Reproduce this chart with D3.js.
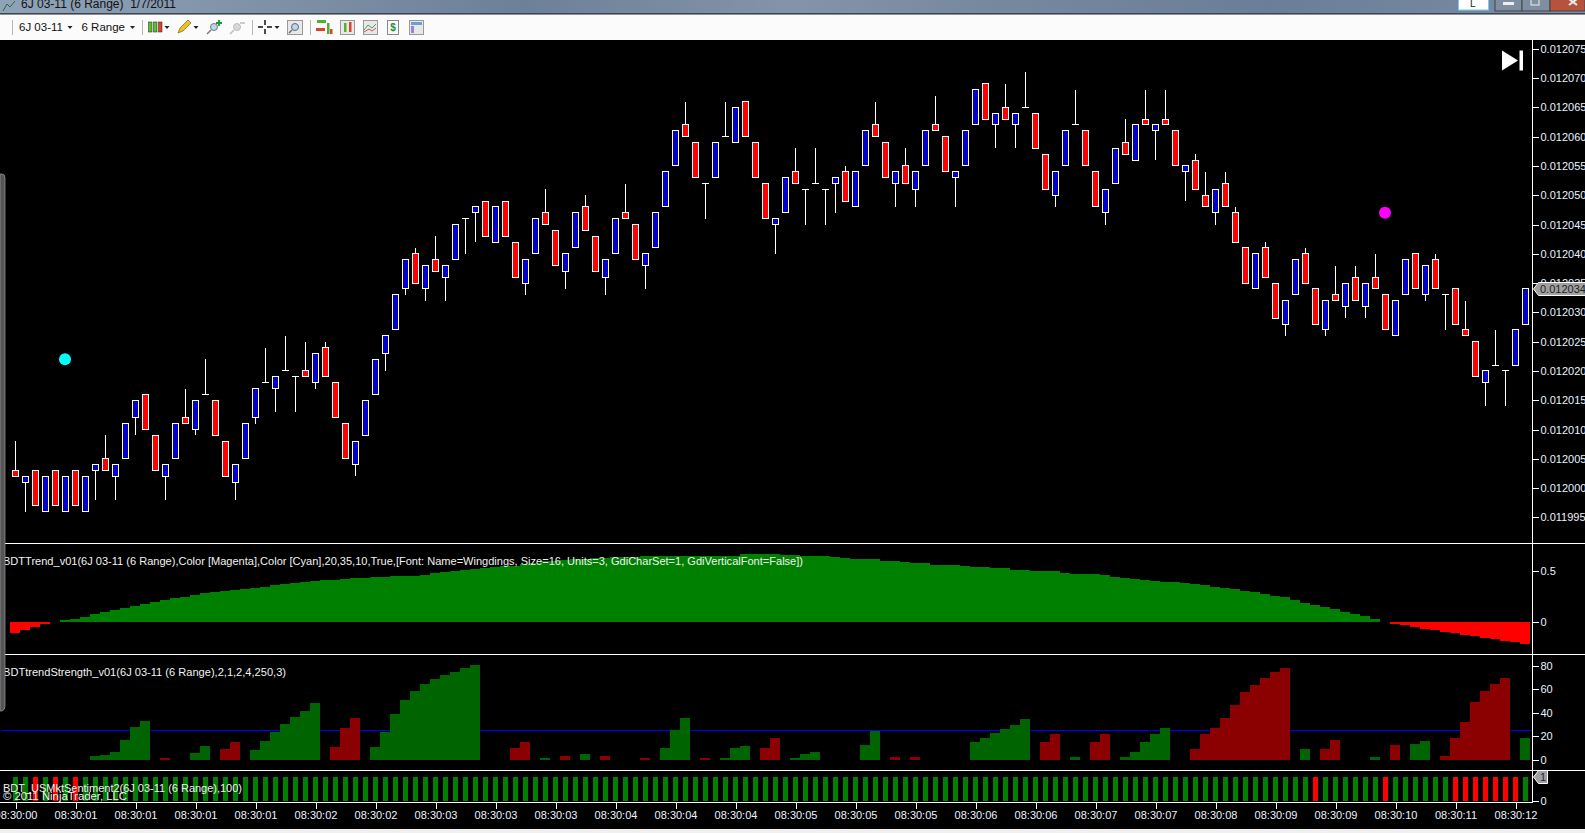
<!DOCTYPE html>
<html>
<head>
<meta charset="utf-8">
<title>6J 03-11 (6 Range)</title>
<script src="https://cdn.jsdelivr.net/npm/d3@7"></script>
<style>
  html, body { margin: 0; padding: 0; background: #000; overflow: hidden; }
  svg { display: block; font-family: "Liberation Sans", Arial, sans-serif; }
  .axis text { fill: #eaf2ff; font-size: 11px; font-family: "Liberation Sans", Arial, sans-serif; }
  .axis line { stroke: #fff; }
  .axis path { display: none; }
  .label { fill: #f2f2f2; font-size: 11px; }
  .crisp { shape-rendering: crispEdges; }
</style>
</head>
<body>
<div id="chart"></div>
<script>
// prices are in ticks above 0.012000 (1 tick = 0.000001)
const opens = [3,1,3,-4,3,-4,3,-4,3,5,2,5,12,16,9,2,5,12,10,16,15,8,1,5,12,18,17,20,19,20,18,24,18,11,4,9,16,23,27,34,40,34,39,36,39,46,47,49,42,49,42,35,40,47,44,37,41,48,43,36,40,47,45,38,41,48,55,62,59,52,53,60,59,66,59,52,45,47,54,51,52,51,52,54,48,55,62,59,52,55,51,55,62,60,53,55,62,69,62,65,62,65,64,57,50,55,62,61,54,47,52,59,56,63,61,63,61,54,56,50,47,52,47,41,34,41,35,28,33,40,34,27,33,31,36,31,36,33,26,33,40,33,39,33,34,27,25,18,21,20,21,28]
const closes = [2,2,-3,2,-3,2,-3,2,4,3,4,11,15,10,3,4,11,11,15,16,9,2,4,11,17,18,19,20,19,19,23,19,12,5,8,15,22,26,33,39,35,38,37,38,45,46,48,43,48,43,36,39,46,45,38,40,47,44,37,39,46,46,39,40,47,54,61,60,53,52,59,60,65,60,53,46,46,53,52,51,52,51,53,49,54,61,60,53,54,52,54,61,61,54,54,61,68,63,64,63,64,65,58,51,54,61,62,55,48,51,58,57,62,62,62,62,55,55,51,48,51,48,42,35,40,36,29,32,39,35,28,32,32,35,32,35,34,27,32,39,34,38,34,33,28,26,19,20,21,20,27,34]
const highs = [8,2,3,2,3,2,3,2,4,9,4,11,15,16,9,4,11,17,15,22,15,8,4,11,17,24,19,26,19,25,23,25,18,11,8,15,22,26,33,39,41,38,43,38,45,46,48,49,48,49,42,39,46,51,44,40,47,50,43,39,46,52,45,40,47,54,61,66,59,52,59,66,65,66,59,52,46,53,58,51,58,51,53,55,54,61,66,59,54,58,54,61,67,60,54,61,68,69,64,69,64,71,64,57,54,61,68,61,54,51,58,63,62,68,62,68,61,55,57,54,51,54,48,41,40,42,35,32,39,41,34,32,38,35,38,35,40,33,32,39,40,38,40,33,34,32,25,20,27,20,27,34]
const lows = [2,-4,-3,-4,-3,-4,-3,-4,-2,3,-2,5,9,10,3,-2,5,11,9,16,9,2,-2,5,11,18,13,20,13,19,17,19,12,5,2,9,16,20,27,33,35,32,37,32,39,40,42,43,42,43,36,33,40,45,38,34,41,44,37,33,40,46,39,34,41,48,55,60,53,46,53,60,59,60,53,46,40,47,52,45,52,45,47,49,48,55,60,53,48,52,48,55,61,54,48,55,62,63,58,63,58,65,58,51,48,55,62,55,48,45,52,57,56,62,56,62,55,49,51,48,45,48,42,35,34,36,29,26,33,35,28,26,32,29,32,29,34,27,26,33,34,32,34,27,28,26,19,14,21,14,21,28]

// BDTTrend_v01, one value per bar
const trendValues = [-.108,-.082,-.056,-.026,0,
  .013,.026,.049,.072,.092,.115,.135,.155,.174,.194,.214,.233,.247,.26,.279,.289,.299,.309,.322,.332,.342,.358,.371,.381,.391,.401,.411,.414,.424,.427,.434,.437,.444,.447,.454,.454,.457,.477,.487,.5,.51,.516,.526,.536,.546,.552,.565,.582,.595,.602,.611,.618,.621,.625,.631,.634,.638,.641,.644,.644,.648,.648,.648,.648,.651,.651,.651,.651,.664,.664,.664,.664,.657,.654,.651,.651,.648,.641,.631,.621,.621,.615,.602,.598,.592,.582,.575,.562,.562,.559,.549,.536,.536,.533,.526,.513,.513,.503,.503,.496,.483,.473,.473,.467,.457,.437,.431,.421,.408,.401,.391,.391,.378,.368,.358,.342,.332,.322,.306,.293,.273,.253,.24,.214,.187,.164,.148,.122,.099,.076,.056,.026,
  0,-.02,-.036,-.053,-.072,-.085,-.099,-.115,-.131,-.145,-.158,-.174,-.187,-.201,-.217]

// BDTtrendStrength_v01, sign is the colour (up green, down dark red)
const strengthValues = [0,0,0,0,0,0,0,0,3,4,7,17,28,33,0,-2,0,0,6,12,0,-9,-15,0,8.5,16,24,30.5,36.5,41.5,48,0,-11,-27,-35.5,0,11,24,39,51,58.5,64.5,68.5,72,75,78,80.5,0,0,0,-10,-15,0,2,0,-3.5,0,5,0,-3.5,0,0,0,-2,0,10,25.5,35.5,0,-2,0,2,10,12,0,-10,-18.5,0,2,5,7,0,0,0,0,12.5,24.5,0,-2.5,0,-2.5,0,0,0,0,0,15,18.5,23,26.5,29.5,35,0,-15,-22,0,2.5,0,-15,-22,0,2.5,7,15,22,27,0,0,-9,-22,-27,-35.5,-46.5,-57.5,-63.5,-69.5,-74.5,-78,0,9,0,-9,-17,0,0,0,2.5,0,-12.5,0,13.5,16,0,-3.5,-18.5,-32,-49,-58.5,-64.5,-69.5,0,18.5]
const strengthLevel = 25

// BDT_USMktSentiment2: every bar is 1, these bars are the red ones
const sentimentRedBars = [2,4,6,130,137,144,145,146,147,148,149,150]

const timeLabels = ['08:30:00','08:30:01','08:30:01','08:30:01','08:30:01','08:30:02','08:30:02','08:30:03','08:30:03','08:30:03','08:30:04','08:30:04','08:30:04','08:30:05','08:30:05','08:30:05','08:30:06','08:30:06','08:30:07','08:30:07','08:30:08','08:30:09','08:30:09','08:30:10','08:30:11','08:30:12']
const priceTicks = d3.range(-5, 76, 5)
const trendTicks = [0, 0.5]
const strengthTicks = [0, 20, 40, 60, 80]
const lastPrice = 34

// trend dots: bar index and price in ticks
const dots = [{ bar: 5, price: 22, color: '#00ffff' }, { bar: 137, price: 47, color: '#ff00ff' }]

const labels = [
  { text: 'BDTTrend_v01(6J 03-11 (6 Range),Color [Magenta],Color [Cyan],20,35,10,True,[Font: Name=Wingdings, Size=16, Units=3, GdiCharSet=1, GdiVerticalFont=False])', y: 564.5, len: 800 },
  { text: 'BDTtrendStrength_v01(6J 03-11 (6 Range),2,1,2,4,250,3)', y: 675.5, len: 283 },
  { text: 'BDT_USMktSentiment2(6J 03-11 (6 Range),100)', y: 792, len: 239 },
  { text: '© 2011 NinjaTrader, LLC', y: 800, len: 124 }
]

const width = 1585
const height = 833
const axisX = 1532.5
const panelLines = [543.5, 654.5, 770.5]
const xBottom = 802.5

const svg = d3.select('#chart').append('svg')
  .attr('width', width)
  .attr('height', height)

svg.append('rect').attr('width', width).attr('height', height).attr('fill', '#000')

const x = d3.scaleLinear().domain([0, 151]).range([15.5, 1525.5])
const priceY = d3.scaleLinear().domain([75, -5]).range([48.8, 517.4])
const trendY = d3.scaleLinear().domain([0.5, 0]).range([571, 621.7])
const strengthY = d3.scaleLinear().domain([80, 0]).range([665.7, 760])
const sentimentY = d3.scaleLinear().domain([1, 0]).range([777, 801])

const bars = opens.map((o, i) => ({ i, open: o, close: closes[i], high: highs[i], low: lows[i] }))

// ---- price panel
const wicks = svg.append('g').attr('class', 'crisp')
wicks.selectAll('line')
  .data(bars)
  .join('line')
  .attr('x1', d => x(d.i))
  .attr('x2', d => x(d.i))
  .attr('y1', d => priceY(d.high))
  .attr('y2', d => priceY(d.low))
  .attr('stroke', '#fff')

svg.append('g').attr('class', 'crisp').selectAll('rect')
  .data(bars.filter(d => d.open !== d.close))
  .join('rect')
  .attr('x', d => x(d.i) - 3)
  .attr('width', 6)
  .attr('y', d => priceY(Math.max(d.open, d.close)))
  .attr('height', d => Math.abs(priceY(d.open) - priceY(d.close)))
  .attr('fill', d => d.close > d.open ? '#0000c8' : '#ff0000')
  .attr('stroke', '#fff')

// open == close, only a flat line
svg.append('g').attr('class', 'crisp').selectAll('line')
  .data(bars.filter(d => d.open === d.close))
  .join('line')
  .attr('x1', d => x(d.i) - 3.5)
  .attr('x2', d => x(d.i) + 3.5)
  .attr('y1', d => priceY(d.open))
  .attr('y2', d => priceY(d.open))
  .attr('stroke', '#fff')

svg.append('g').selectAll('circle')
  .data(dots)
  .join('circle')
  .attr('cx', d => x(d.bar) - 0.5)
  .attr('cy', d => priceY(d.price))
  .attr('r', 6)
  .attr('fill', d => d.color)

// jump to last bar button
svg.append('path').attr('d', 'M1502,50.5 L1518,60.5 L1502,70.5 Z').attr('fill', '#fff')
svg.append('rect').attr('x', 1519.5).attr('y', 50.5).attr('width', 3.5).attr('height', 20).attr('fill', '#fff')

// ---- trend panel
svg.append('g').attr('class', 'crisp').selectAll('rect')
  .data(trendValues.map((v, i) => ({ i, v })).filter(d => d.v !== 0))
  .join('rect')
  .attr('x', d => x(d.i) - 5.5)
  .attr('width', 10)
  .attr('y', d => d.v > 0 ? trendY(d.v) : trendY(0))
  .attr('height', d => Math.abs(trendY(d.v) - trendY(0)))
  .attr('fill', d => d.v > 0 ? '#008000' : '#ff0000')

// ---- strength panel
svg.append('line').attr('class', 'crisp')
  .attr('x1', 1).attr('x2', axisX)
  .attr('y1', strengthY(strengthLevel)).attr('y2', strengthY(strengthLevel))
  .attr('stroke', '#0000ff').attr('stroke-width', 1.4)

svg.append('g').attr('class', 'crisp').selectAll('rect')
  .data(strengthValues.map((v, i) => ({ i, v })).filter(d => d.v !== 0))
  .join('rect')
  .attr('x', d => x(d.i) - 5.5)
  .attr('width', 10)
  .attr('y', d => strengthY(Math.abs(d.v)))
  .attr('height', d => strengthY(0) - strengthY(Math.abs(d.v)))
  .attr('fill', d => d.v > 0 ? '#006400' : '#8b0000')

// ---- sentiment panel
svg.append('g').attr('class', 'crisp').selectAll('rect')
  .data(bars)
  .join('rect')
  .attr('x', d => x(d.i) - 2.5)
  .attr('width', 5)
  .attr('y', sentimentY(1))
  .attr('height', sentimentY(0) - sentimentY(1))
  .attr('fill', d => sentimentRedBars.includes(d.i) ? '#ff0000' : '#008000')

// ---- indicator labels, on top of the bars
svg.append('g').selectAll('text')
  .data(labels)
  .join('text')
  .attr('class', 'label')
  .attr('x', 3)
  .attr('y', d => d.y)
  .attr('textLength', d => d.len)
  .attr('lengthAdjust', 'spacingAndGlyphs')
  .text(d => d.text)

// ---- frame
svg.append('g').attr('class', 'crisp').selectAll('line')
  .data(panelLines)
  .join('line')
  .attr('x1', 0).attr('x2', width)
  .attr('y1', d => d).attr('y2', d => d)
  .attr('stroke', '#fff')
svg.append('line').attr('class', 'crisp')
  .attr('x1', 0).attr('x2', axisX).attr('y1', xBottom).attr('y2', xBottom).attr('stroke', '#fff')
svg.append('line').attr('class', 'crisp')
  .attr('x1', axisX).attr('x2', axisX).attr('y1', 40).attr('y2', xBottom).attr('stroke', '#fff')

// ---- axes
const rightAxis = (scale, ticks, format) => d3.axisRight(scale)
  .tickValues(ticks)
  .tickFormat(format)
  .tickSize(6)
  .tickPadding(2)

svg.append('g').attr('class', 'axis crisp')
  .attr('transform', 'translate(' + axisX + ',0)')
  .call(rightAxis(priceY, priceTicks, d => (0.012 + d / 1e6).toFixed(6)))

svg.append('g').attr('class', 'axis crisp')
  .attr('transform', 'translate(' + axisX + ',0)')
  .call(rightAxis(trendY, trendTicks, d => d))

svg.append('g').attr('class', 'axis crisp')
  .attr('transform', 'translate(' + axisX + ',0)')
  .call(rightAxis(strengthY, strengthTicks, d => d))

svg.append('g').attr('class', 'axis crisp')
  .attr('transform', 'translate(' + axisX + ',0)')
  .call(rightAxis(sentimentY, [0], d => d))

svg.append('g').attr('class', 'axis crisp')
  .attr('transform', 'translate(0,' + xBottom + ')')
  .call(d3.axisBottom(x)
    .tickValues(d3.range(0, 152, 6))
    .tickFormat((d, i) => timeLabels[i])
    .tickSize(6)
    .tickPadding(3))

// last value flags
function flag (y, right, text, color) {
  svg.append('path')
    .attr('d', 'M' + (axisX + 1) + ',' + y + ' L' + (axisX + 6) + ',' + (y - 6.5) + ' H' + right + ' V' + (y + 6.5) + ' H' + (axisX + 6) + ' Z')
    .attr('fill', '#a0a0a0')
    .attr('stroke', '#fff')
  svg.append('text')
    .attr('x', axisX + 7.5)
    .attr('y', y + 4)
    .attr('font-size', 11)
    .attr('fill', color)
    .text(text)
}
flag(priceY(lastPrice), 1590, (0.012 + lastPrice / 1e6).toFixed(6), '#222')
flag(sentimentY(1), 1547.5, '1', '#302040')

// ---- window chrome round the chart
svg.append('rect').attr('y', 829).attr('width', width).attr('height', 4).attr('fill', '#f0f0f0')

// scroll handle on the left edge
svg.append('path')
  .attr('d', 'M0,174 L2,174 Q5,174 5,178 L5,706 Q5,710 2,711 L0,711 Z')
  .attr('fill', '#555')
  .attr('stroke', '#999')
  .attr('stroke-width', 0.7)

const defs = svg.append('defs')
const titleGrad = defs.append('linearGradient').attr('id', 'titlebar')
titleGrad.selectAll('stop')
  .data([[0, '#8fa3b8'], [0.18, '#7d90a6'], [0.33, '#6c8098'], [0.5, '#8494a8'], [0.62, '#77899f'], [0.8, '#6a7e97'], [1, '#7a8da4']])
  .join('stop')
  .attr('offset', d => d[0])
  .attr('stop-color', d => d[1])

svg.append('rect').attr('width', width).attr('height', 14).attr('fill', 'url(#titlebar)')
svg.append('rect').attr('y', 13).attr('width', width).attr('height', 1.5).attr('fill', '#3c4650')
svg.append('rect').attr('y', 14.5).attr('width', width).attr('height', 25.5).attr('fill', '#fbfbfb')

svg.append('text').attr('x', 21).attr('y', 8).attr('font-size', 12).attr('fill', '#111')
  .style('white-space', 'pre')
  .text('6J 03-11 (6 Range)  1/7/2011')
svg.append('path').attr('d', 'M3,11 L7,4 L10,7 L15,1').attr('fill', 'none').attr('stroke', '#2a6f3a')

// window buttons
svg.append('rect').attr('x', 1458.5).attr('y', -2).attr('width', 30).attr('height', 12).attr('fill', '#fff').attr('stroke', '#6fd0f0')
svg.append('text').attr('x', 1470).attr('y', 7).attr('font-size', 10).attr('fill', '#222').text('L')
svg.append('rect').attr('x', 1495).attr('y', -2).attr('width', 27).attr('height', 13).attr('fill', '#7f8ea0').attr('stroke', '#444')
svg.append('rect').attr('x', 1522).attr('y', -2).attr('width', 28).attr('height', 13).attr('fill', '#7f8ea0').attr('stroke', '#444')
svg.append('rect').attr('x', 1550).attr('y', -2).attr('width', 35).attr('height', 13).attr('fill', '#b5533c').attr('stroke', '#444')
svg.append('rect').attr('x', 1503).attr('y', 2).attr('width', 11).attr('height', 3).attr('fill', '#eee')
svg.append('rect').attr('x', 1531).attr('y', -1).attr('width', 8).attr('height', 6).attr('fill', 'none').attr('stroke', '#eee')
svg.append('path').attr('d', 'M1569,-1 L1577,5 M1577,-1 L1569,5').attr('stroke', '#eee').attr('stroke-width', 2)

// toolbar
const toolbar = svg.append('g')
toolbar.selectAll('line.sep')
  .data([12.5, 142.5, 252.5, 310.5])
  .join('line')
  .attr('class', 'crisp')
  .attr('x1', d => d).attr('x2', d => d)
  .attr('y1', 20).attr('y2', 35)
  .attr('stroke', '#b8b8b8')

toolbar.selectAll('path.caret')
  .data([70, 132.5, 167, 196, 277])
  .join('path')
  .attr('d', d => 'M' + (d - 2.5) + ',26 H' + (d + 2.5) + ' L' + d + ',29 Z')
  .attr('fill', '#222')

toolbar.append('text').attr('x', 19).attr('y', 31).attr('font-size', 11.5).attr('fill', '#111').text('6J 03-11')
toolbar.append('text').attr('x', 81.5).attr('y', 31).attr('font-size', 11.5).attr('fill', '#111').text('6 Range')

// candle icon
;[[150, '#55c030'], [155, '#55c030'], [160, '#e04030']].forEach(d => {
  toolbar.append('rect').attr('x', d[0] - 1.5).attr('y', 22).attr('width', 3.5).attr('height', 10).attr('fill', d[1]).attr('stroke', '#222').attr('stroke-width', 0.5)
})
// pencil
toolbar.append('path').attr('d', 'M178,33 L180,28 L188,20 L191,23 L183,31 Z').attr('fill', '#f0c020').attr('stroke', '#665010').attr('stroke-width', 0.6)
// zoom in, zoom out
toolbar.append('circle').attr('cx', 214).attr('cy', 27).attr('r', 3.5).attr('fill', '#bcd6ea').attr('stroke', '#777')
toolbar.append('line').attr('x1', 211).attr('y1', 30).attr('x2', 207).attr('y2', 34).attr('stroke', '#777').attr('stroke-width', 1.5)
toolbar.append('path').attr('d', 'M219,20 v6 M216,23 h6').attr('stroke', '#10a030').attr('stroke-width', 1.8)
toolbar.append('circle').attr('cx', 237).attr('cy', 27).attr('r', 3.5).attr('fill', '#d8d8d8').attr('stroke', '#bbb')
toolbar.append('line').attr('x1', 234).attr('y1', 30).attr('x2', 230).attr('y2', 34).attr('stroke', '#bbb').attr('stroke-width', 1.5)
toolbar.append('path').attr('d', 'M240,23 h5').attr('stroke', '#bbb').attr('stroke-width', 1.5)
// crosshair
toolbar.append('path').attr('d', 'M258,27 h5 M267,27 h5 M265,20 v5 M265,29 v5').attr('stroke', '#111').attr('stroke-width', 1.5)
// boxed buttons
;[[287, 15], [340, 14], [363, 14], [409, 14]].forEach(d => {
  toolbar.append('rect').attr('x', d[0] + 0.5).attr('y', 20.5).attr('width', d[1]).attr('height', 14).attr('fill', '#e8e8e8').attr('stroke', '#999')
})
toolbar.append('circle').attr('cx', 295).attr('cy', 27).attr('r', 3.5).attr('fill', '#bcd6ea').attr('stroke', '#667')
toolbar.append('line').attr('x1', 292).attr('y1', 30).attr('x2', 289).attr('y2', 33).attr('stroke', '#667').attr('stroke-width', 1.4)
toolbar.append('rect').attr('x', 317).attr('y', 20).attr('width', 9).attr('height', 3).attr('fill', '#50b030')
toolbar.append('rect').attr('x', 316).attr('y', 28).attr('width', 9).attr('height', 3).attr('fill', '#e04030')
toolbar.append('rect').attr('x', 327).attr('y', 23).attr('width', 2.5).attr('height', 11).attr('fill', '#50b030')
toolbar.append('rect').attr('x', 330).attr('y', 29).attr('width', 2.5).attr('height', 5).attr('fill', '#e04030')
toolbar.append('rect').attr('x', 344).attr('y', 23).attr('width', 2.5).attr('height', 9).attr('fill', '#50b030')
toolbar.append('rect').attr('x', 349).attr('y', 22).attr('width', 2.5).attr('height', 10).attr('fill', '#e04030')
toolbar.append('path').attr('d', 'M364,30 L368,25 L372,28 L376,24').attr('fill', 'none').attr('stroke', '#50a060')
toolbar.append('path').attr('d', 'M364,32 L369,29 L372,31 L376,28').attr('fill', 'none').attr('stroke', '#d05050')
toolbar.append('rect').attr('x', 387.5).attr('y', 20.5).attr('width', 11).attr('height', 14).attr('fill', '#f8f8f8').attr('stroke', '#888')
toolbar.append('text').attr('x', 393).attr('y', 31).attr('text-anchor', 'middle').attr('font-size', 10).attr('font-weight', 'bold').attr('fill', '#2a8a3a').text('$')
toolbar.append('rect').attr('x', 411).attr('y', 22).attr('width', 11).attr('height', 3).attr('fill', '#6aa0d0')
toolbar.append('rect').attr('x', 411).attr('y', 26).attr('width', 3).attr('height', 7).attr('fill', '#a080d0')
</script>
</body>
</html>
